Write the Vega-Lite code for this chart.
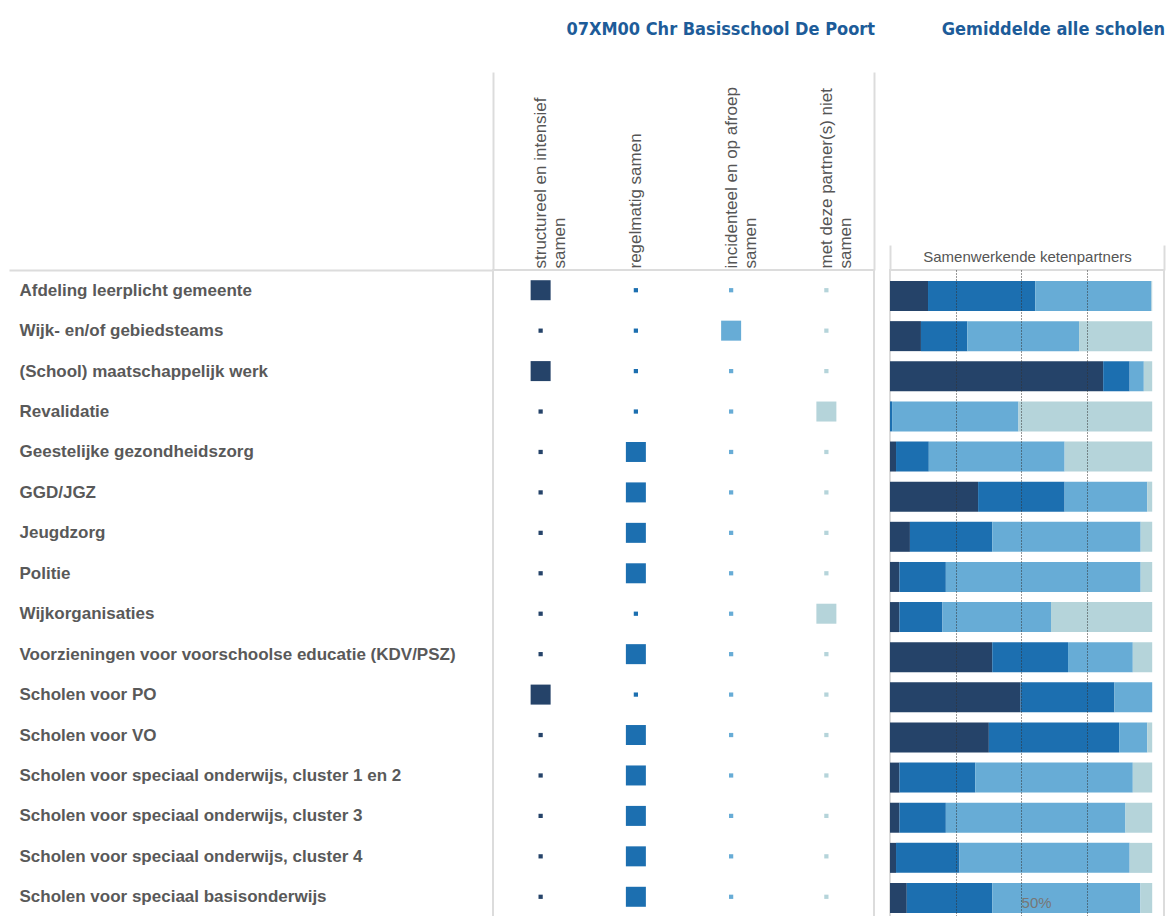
{
  "$schema": "https://vega.github.io/schema/vega-lite/v6.json",
  "padding": {"left": 7, "top": 20, "right": 0, "bottom": 0},
  "background": "white",
  "config": {
    "font": "Liberation Sans",
    "view": {"stroke": "#dcdcdc", "strokeWidth": 2},
    "title": {"font": "DejaVu Sans Condensed, DejaVu Sans", "fontSize": 18, "fontWeight": "bold", "color": "#1d5c99", "anchor": "end"},
    "concat": {"spacing": 12}
  },
  "data": {"values": [
    {"partner": "Afdeling leerplicht gemeente", "categorie": "structureel en intensief samen", "nr": 1, "school": 1, "gemiddeld": 14.5},
    {"partner": "Afdeling leerplicht gemeente", "categorie": "regelmatig samen", "nr": 2, "school": 0, "gemiddeld": 40.9},
    {"partner": "Afdeling leerplicht gemeente", "categorie": "incidenteel en op afroep samen", "nr": 3, "school": 0, "gemiddeld": 44.3},
    {"partner": "Afdeling leerplicht gemeente", "categorie": "met deze partner(s) niet samen", "nr": 4, "school": 0, "gemiddeld": 0.3},
    {"partner": "Wijk- en/of gebiedsteams", "categorie": "structureel en intensief samen", "nr": 1, "school": 0, "gemiddeld": 11.8},
    {"partner": "Wijk- en/of gebiedsteams", "categorie": "regelmatig samen", "nr": 2, "school": 0, "gemiddeld": 17.7},
    {"partner": "Wijk- en/of gebiedsteams", "categorie": "incidenteel en op afroep samen", "nr": 3, "school": 1, "gemiddeld": 42.6},
    {"partner": "Wijk- en/of gebiedsteams", "categorie": "met deze partner(s) niet samen", "nr": 4, "school": 0, "gemiddeld": 27.9},
    {"partner": "(School) maatschappelijk werk", "categorie": "structureel en intensief samen", "nr": 1, "school": 1, "gemiddeld": 81.3},
    {"partner": "(School) maatschappelijk werk", "categorie": "regelmatig samen", "nr": 2, "school": 0, "gemiddeld": 10.1},
    {"partner": "(School) maatschappelijk werk", "categorie": "incidenteel en op afroep samen", "nr": 3, "school": 0, "gemiddeld": 5.4},
    {"partner": "(School) maatschappelijk werk", "categorie": "met deze partner(s) niet samen", "nr": 4, "school": 0, "gemiddeld": 3.2},
    {"partner": "Revalidatie", "categorie": "structureel en intensief samen", "nr": 1, "school": 0, "gemiddeld": 0},
    {"partner": "Revalidatie", "categorie": "regelmatig samen", "nr": 2, "school": 0, "gemiddeld": 0.8},
    {"partner": "Revalidatie", "categorie": "incidenteel en op afroep samen", "nr": 3, "school": 0, "gemiddeld": 48.2},
    {"partner": "Revalidatie", "categorie": "met deze partner(s) niet samen", "nr": 4, "school": 1, "gemiddeld": 51},
    {"partner": "Geestelijke gezondheidszorg", "categorie": "structureel en intensief samen", "nr": 1, "school": 0, "gemiddeld": 2.3},
    {"partner": "Geestelijke gezondheidszorg", "categorie": "regelmatig samen", "nr": 2, "school": 1, "gemiddeld": 12.5},
    {"partner": "Geestelijke gezondheidszorg", "categorie": "incidenteel en op afroep samen", "nr": 3, "school": 0, "gemiddeld": 51.8},
    {"partner": "Geestelijke gezondheidszorg", "categorie": "met deze partner(s) niet samen", "nr": 4, "school": 0, "gemiddeld": 33.4},
    {"partner": "GGD/JGZ", "categorie": "structureel en intensief samen", "nr": 1, "school": 0, "gemiddeld": 33.6},
    {"partner": "GGD/JGZ", "categorie": "regelmatig samen", "nr": 2, "school": 1, "gemiddeld": 33},
    {"partner": "GGD/JGZ", "categorie": "incidenteel en op afroep samen", "nr": 3, "school": 0, "gemiddeld": 31.5},
    {"partner": "GGD/JGZ", "categorie": "met deze partner(s) niet samen", "nr": 4, "school": 0, "gemiddeld": 1.9},
    {"partner": "Jeugdzorg", "categorie": "structureel en intensief samen", "nr": 1, "school": 0, "gemiddeld": 7.6},
    {"partner": "Jeugdzorg", "categorie": "regelmatig samen", "nr": 2, "school": 1, "gemiddeld": 31.4},
    {"partner": "Jeugdzorg", "categorie": "incidenteel en op afroep samen", "nr": 3, "school": 0, "gemiddeld": 56.6},
    {"partner": "Jeugdzorg", "categorie": "met deze partner(s) niet samen", "nr": 4, "school": 0, "gemiddeld": 4.4},
    {"partner": "Politie", "categorie": "structureel en intensief samen", "nr": 1, "school": 0, "gemiddeld": 3.6},
    {"partner": "Politie", "categorie": "regelmatig samen", "nr": 2, "school": 1, "gemiddeld": 17.7},
    {"partner": "Politie", "categorie": "incidenteel en op afroep samen", "nr": 3, "school": 0, "gemiddeld": 74.3},
    {"partner": "Politie", "categorie": "met deze partner(s) niet samen", "nr": 4, "school": 0, "gemiddeld": 4.4},
    {"partner": "Wijkorganisaties", "categorie": "structureel en intensief samen", "nr": 1, "school": 0, "gemiddeld": 3.6},
    {"partner": "Wijkorganisaties", "categorie": "regelmatig samen", "nr": 2, "school": 0, "gemiddeld": 16.4},
    {"partner": "Wijkorganisaties", "categorie": "incidenteel en op afroep samen", "nr": 3, "school": 0, "gemiddeld": 41.4},
    {"partner": "Wijkorganisaties", "categorie": "met deze partner(s) niet samen", "nr": 4, "school": 1, "gemiddeld": 38.6},
    {"partner": "Voorzieningen voor voorschoolse educatie (KDV/PSZ)", "categorie": "structureel en intensief samen", "nr": 1, "school": 0, "gemiddeld": 39},
    {"partner": "Voorzieningen voor voorschoolse educatie (KDV/PSZ)", "categorie": "regelmatig samen", "nr": 2, "school": 1, "gemiddeld": 28.9},
    {"partner": "Voorzieningen voor voorschoolse educatie (KDV/PSZ)", "categorie": "incidenteel en op afroep samen", "nr": 3, "school": 0, "gemiddeld": 24.7},
    {"partner": "Voorzieningen voor voorschoolse educatie (KDV/PSZ)", "categorie": "met deze partner(s) niet samen", "nr": 4, "school": 0, "gemiddeld": 7.4},
    {"partner": "Scholen voor PO", "categorie": "structureel en intensief samen", "nr": 1, "school": 1, "gemiddeld": 49.8},
    {"partner": "Scholen voor PO", "categorie": "regelmatig samen", "nr": 2, "school": 0, "gemiddeld": 35.8},
    {"partner": "Scholen voor PO", "categorie": "incidenteel en op afroep samen", "nr": 3, "school": 0, "gemiddeld": 14.4},
    {"partner": "Scholen voor PO", "categorie": "met deze partner(s) niet samen", "nr": 4, "school": 0, "gemiddeld": 0},
    {"partner": "Scholen voor VO", "categorie": "structureel en intensief samen", "nr": 1, "school": 0, "gemiddeld": 37.7},
    {"partner": "Scholen voor VO", "categorie": "regelmatig samen", "nr": 2, "school": 1, "gemiddeld": 49.7},
    {"partner": "Scholen voor VO", "categorie": "incidenteel en op afroep samen", "nr": 3, "school": 0, "gemiddeld": 10.7},
    {"partner": "Scholen voor VO", "categorie": "met deze partner(s) niet samen", "nr": 4, "school": 0, "gemiddeld": 1.9},
    {"partner": "Scholen voor speciaal onderwijs, cluster 1 en 2", "categorie": "structureel en intensief samen", "nr": 1, "school": 0, "gemiddeld": 3.6},
    {"partner": "Scholen voor speciaal onderwijs, cluster 1 en 2", "categorie": "regelmatig samen", "nr": 2, "school": 1, "gemiddeld": 28.9},
    {"partner": "Scholen voor speciaal onderwijs, cluster 1 en 2", "categorie": "incidenteel en op afroep samen", "nr": 3, "school": 0, "gemiddeld": 60.1},
    {"partner": "Scholen voor speciaal onderwijs, cluster 1 en 2", "categorie": "met deze partner(s) niet samen", "nr": 4, "school": 0, "gemiddeld": 7.4},
    {"partner": "Scholen voor speciaal onderwijs, cluster 3", "categorie": "structureel en intensief samen", "nr": 1, "school": 0, "gemiddeld": 3.6},
    {"partner": "Scholen voor speciaal onderwijs, cluster 3", "categorie": "regelmatig samen", "nr": 2, "school": 1, "gemiddeld": 17.7},
    {"partner": "Scholen voor speciaal onderwijs, cluster 3", "categorie": "incidenteel en op afroep samen", "nr": 3, "school": 0, "gemiddeld": 68.5},
    {"partner": "Scholen voor speciaal onderwijs, cluster 3", "categorie": "met deze partner(s) niet samen", "nr": 4, "school": 0, "gemiddeld": 10.2},
    {"partner": "Scholen voor speciaal onderwijs, cluster 4", "categorie": "structureel en intensief samen", "nr": 1, "school": 0, "gemiddeld": 2.3},
    {"partner": "Scholen voor speciaal onderwijs, cluster 4", "categorie": "regelmatig samen", "nr": 2, "school": 1, "gemiddeld": 24.2},
    {"partner": "Scholen voor speciaal onderwijs, cluster 4", "categorie": "incidenteel en op afroep samen", "nr": 3, "school": 0, "gemiddeld": 64.9},
    {"partner": "Scholen voor speciaal onderwijs, cluster 4", "categorie": "met deze partner(s) niet samen", "nr": 4, "school": 0, "gemiddeld": 8.6},
    {"partner": "Scholen voor speciaal basisonderwijs", "categorie": "structureel en intensief samen", "nr": 1, "school": 0, "gemiddeld": 6.4},
    {"partner": "Scholen voor speciaal basisonderwijs", "categorie": "regelmatig samen", "nr": 2, "school": 1, "gemiddeld": 32.6},
    {"partner": "Scholen voor speciaal basisonderwijs", "categorie": "incidenteel en op afroep samen", "nr": 3, "school": 0, "gemiddeld": 56.5},
    {"partner": "Scholen voor speciaal basisonderwijs", "categorie": "met deze partner(s) niet samen", "nr": 4, "school": 0, "gemiddeld": 4.5}
  ]},
  "hconcat": [
    {
      "width": 381,
      "height": 647,
      "title": {"text": "07XM00 Chr Basisschool De Poort", "offset": 32},
      "mark": {"type": "square", "opacity": 1},
      "encoding": {
        "x": {
          "field": "categorie", "type": "nominal", "sort": null,
          "scale": {"type": "band", "padding": 0},
          "axis": {
            "orient": "top", "title": null, "domain": false, "grid": false,
            "tickBand": "extent", "tickSize": 198, "tickColor": "#dcdcdc", "tickWidth": 2,
            "tickOpacity": {"condition": {"test": "datum.index === -1 || datum.index === 1", "value": 1}, "value": 0},
            "labelAngle": -90, "labelAlign": "left", "labelBaseline": "middle",
            "labelPadding": -196, "labelFontSize": 17, "labelColor": "#555555",
            "labelLineHeight": 19, "labelLimit": 300,
            "labelExpr": "length(datum.label) > 20 ? [substring(datum.label, 0, length(datum.label) - 6), 'samen'] : datum.label"
          }
        },
        "y": {
          "field": "partner", "type": "nominal", "sort": null,
          "scale": {"type": "band", "padding": 0},
          "axis": {
            "title": null, "domain": false, "grid": false,
            "tickBand": "extent", "tickSize": 484, "tickColor": "#dcdcdc", "tickWidth": 2,
            "tickOpacity": {"condition": {"test": "datum.index === -1", "value": 1}, "value": 0},
            "labelAlign": "left", "labelPadding": -10, "labelLimit": 470,
            "labelFontSize": 17, "labelFontWeight": "bold", "labelColor": "#595959"
          }
        },
        "color": {
          "field": "categorie", "type": "nominal",
          "scale": {
            "domain": ["structureel en intensief samen", "regelmatig samen", "incidenteel en op afroep samen", "met deze partner(s) niet samen"],
            "range": ["#254369", "#1c6fb0", "#67acd6", "#b5d4da"]
          },
          "legend": null
        },
        "size": {"field": "school", "type": "quantitative", "scale": {"domain": [0, 1], "range": [18, 400]}, "legend": null}
      }
    },
    {
      "width": 274,
      "height": 654,
      "title": {"text": "Gemiddelde alle scholen", "offset": 205},
      "mark": {"type": "bar"},
      "encoding": {
        "y": {"field": "partner", "type": "nominal", "sort": null, "axis": null, "scale": {"paddingInner": 0.2524, "paddingOuter": 0.274}},
        "x": {
          "field": "gemiddeld", "type": "quantitative", "stack": "zero",
          "scale": {"domain": [0, 104.5], "nice": false},
          "axis": {
            "orient": "top", "title": "Samenwerkende ketenpartners",
            "titleFontSize": 15, "titleFontWeight": "normal", "titleColor": "#555555", "titlePadding": -20,
            "domain": false, "values": [0, 25, 50, 75, 104.5],
            "ticks": true, "tickSize": 25, "tickColor": "#dcdcdc", "tickWidth": 2,
            "tickOpacity": {"condition": {"test": "datum.value < 1 || datum.value > 100", "value": 1}, "value": 0},
            "grid": true, "gridColor": "#333333", "gridDash": [1, 2], "gridWidth": 1,
            "gridOpacity": {"condition": {"test": "datum.value > 1 && datum.value < 100", "value": 1}, "value": 0},
            "labelExpr": "datum.value == 50 ? '50%' : ''",
            "labelPadding": -665, "labelAlign": "left", "labelBaseline": "bottom", "labelDx": 3,
            "labelFontSize": 15, "labelColor": "#777777", "labelFlush": false, "labelOverlap": false,
            "zindex": 1
          }
        },
        "color": {
          "field": "categorie", "type": "nominal",
          "scale": {
            "domain": ["structureel en intensief samen", "regelmatig samen", "incidenteel en op afroep samen", "met deze partner(s) niet samen"],
            "range": ["#254369", "#1c6fb0", "#67acd6", "#b5d4da"]
          },
          "legend": null
        },
        "order": {"field": "nr", "type": "quantitative"}
      }
    }
  ]
}
